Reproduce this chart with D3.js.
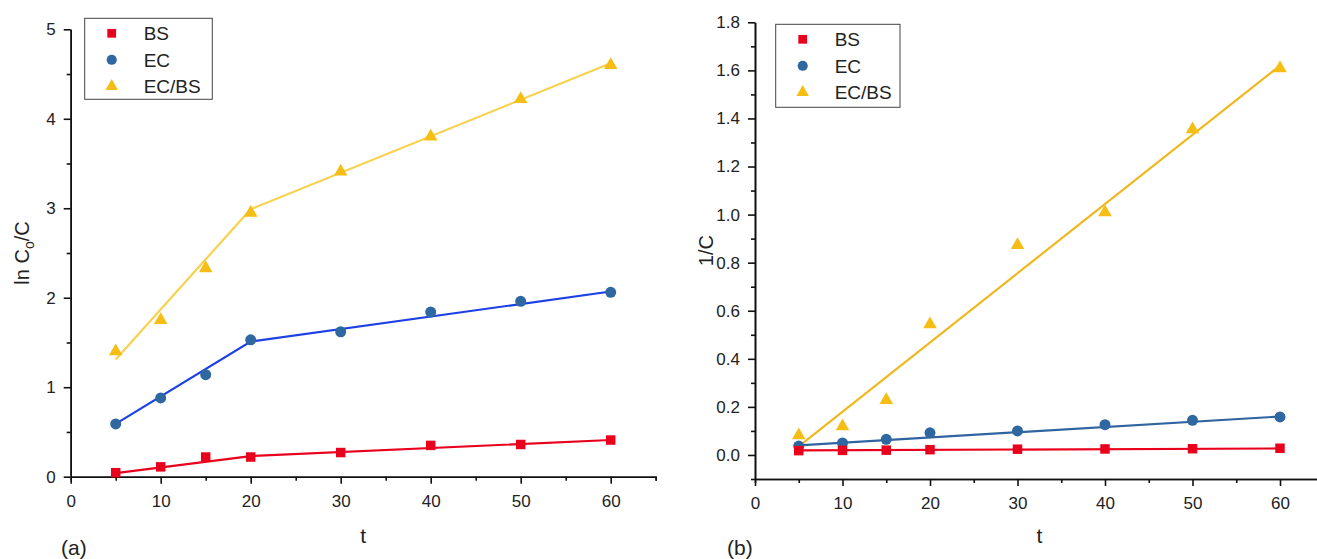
<!DOCTYPE html>
<html>
<head>
<meta charset="utf-8">
<script src="https://cdn.jsdelivr.net/npm/d3@7"></script>
<style>
  body { margin: 0; background: #fff; }
  svg { display: block; font-family: "Liberation Sans", Arial, sans-serif; }
  .axis path, .axis line { stroke: #111; stroke-width: 1.6; }
  .axis text { fill: #222; font-size: 17px; }
</style>
</head>
<body>
<div id="chart"></div>
<script>
// data
const times = [5, 10, 15, 20, 30, 40, 50, 60];
const seriesNames = ['BS', 'EC', 'EC/BS'];

// panel (a): ln C0/C
const lnBS   = [0.045, 0.11, 0.22, 0.22, 0.27, 0.35, 0.36, 0.41];
const lnEC   = [0.59, 0.88, 1.14, 1.53, 1.62, 1.84, 1.96, 2.06];
const lnECBS = [1.40, 1.75, 2.33, 2.95, 3.41, 3.80, 4.22, 4.60];
// piecewise fits (t = 5, 20, 60)
const fitTimesA = [5, 20, 60];
const lnFitBS   = [0.04, 0.23, 0.41];
const lnFitEC   = [0.59, 1.51, 2.07];
const lnFitECBS = [1.31, 2.99, 4.62];

// panel (b): 1/C
const invBS   = [0.018, 0.019, 0.020, 0.022, 0.024, 0.025, 0.026, 0.028];
const invEC   = [0.037, 0.050, 0.065, 0.092, 0.100, 0.126, 0.144, 0.158];
const invECBS = [0.082, 0.119, 0.228, 0.543, 0.873, 1.009, 1.355, 1.609];
// linear fits (t = 5, 60)
const fitTimesB = [5, 60];
const invFitBS   = [0.019, 0.027];
const invFitEC   = [0.040, 0.160];
const invFitECBS = [0.036, 1.620];

const xTicks = [0, 10, 20, 30, 40, 50, 60];
const yTicksA = [0, 1, 2, 3, 4, 5];
const yTicksB = [0, 0.2, 0.4, 0.6, 0.8, 1.0, 1.2, 1.4, 1.6, 1.8];

const markerColor = {'BS': '#e8001c', 'EC': '#2f67a0', 'EC/BS': '#f6bd14'};
const markerShape = {'BS': d3.symbolSquare, 'EC': d3.symbolCircle, 'EC/BS': d3.symbolTriangle};
const markerSize = {'BS': 90, 'EC': 95, 'EC/BS': 80};

const svg = d3.select('#chart').append('svg')
    .attr('width', 1317)
    .attr('height', 559);

function panel(opts) {
    const g = svg.append('g');

    const x = d3.scaleLinear().domain([0, 65]).range([opts.left, opts.left + 65 * opts.xUnit]);
    const y = d3.scaleLinear().domain(opts.yDomain).range([opts.bottom, opts.top]);

    // x axis, major + minor
    g.append('g')
        .attr('class', 'axis')
        .attr('transform', 'translate(0,' + opts.bottom + ')')
        .call(d3.axisBottom(x).tickValues(d3.range(5, 66, 10)).tickSize(4).tickFormat(''));
    g.append('g')
        .attr('class', 'axis')
        .attr('transform', 'translate(0,' + opts.bottom + ')')
        .call(d3.axisBottom(x).tickValues(xTicks).tickSize(7).tickSizeOuter(0).tickPadding(6))
        .selectAll('text').attr('dy', '1em');

    // y axis
    g.append('g')
        .attr('class', 'axis')
        .attr('transform', 'translate(' + opts.left + ',0)')
        .call(d3.axisLeft(y).tickValues(opts.yMinor).tickSize(4).tickSizeOuter(0).tickFormat(''));
    g.append('g')
        .attr('class', 'axis')
        .attr('transform', 'translate(' + opts.left + ',0)')
        .call(d3.axisLeft(y).tickValues(opts.yTicks).tickSize(7).tickSizeOuter(0)
            .tickPadding(8).tickFormat(opts.yFormat));

    // fit lines
    const line = d3.line().x(d => x(d[0])).y(d => y(d[1]));
    opts.fits.forEach(f => {
        g.append('path')
            .datum(opts.fitTimes.map((t, i) => [t, f.values[i]]))
            .attr('fill', 'none')
            .attr('stroke', f.color)
            .attr('stroke-width', 2.2)
            .attr('d', line);
    });

    // markers
    opts.series.forEach(s => {
        g.selectAll(null)
            .data(times.map((t, i) => [t, s.values[i]]))
            .enter().append('path')
            .attr('transform', d => 'translate(' + x(d[0]) + ',' + y(d[1]) + ')')
            .attr('d', d3.symbol().type(markerShape[s.name]).size(markerSize[s.name]))
            .attr('fill', markerColor[s.name]);
    });

    // axis titles
    const yt = g.append('text')
        .attr('transform', 'translate(' + opts.yTitleX + ',' + ((opts.top + opts.bottom) / 2) + ') rotate(-90)')
        .attr('text-anchor', 'middle')
        .attr('font-size', 20)
        .attr('fill', '#222');
    opts.yTitle(yt);

    g.append('text')
        .attr('x', x(32.5))
        .attr('y', 543)
        .attr('text-anchor', 'middle')
        .attr('font-size', 21)
        .attr('fill', '#222')
        .text('t');

    g.append('text')
        .attr('x', opts.tagX)
        .attr('y', 555)
        .attr('font-size', 21)
        .attr('fill', '#222')
        .text(opts.tag);

    // legend
    const lg = g.append('g').attr('transform', 'translate(' + opts.legend[0] + ',' + opts.legend[1] + ')');
    lg.append('rect')
        .attr('width', opts.legend[2])
        .attr('height', opts.legend[3])
        .attr('fill', '#fff')
        .attr('stroke', '#444')
        .attr('stroke-width', 1);
    seriesNames.forEach((n, i) => {
        const cy = 15 + i * 26.5;
        lg.append('path')
            .attr('transform', 'translate(27,' + cy + ')')
            .attr('d', d3.symbol().type(markerShape[n]).size(markerSize[n] * 0.85))
            .attr('fill', markerColor[n]);
        lg.append('text')
            .attr('x', 59)
            .attr('y', cy)
            .attr('dy', '0.36em')
            .attr('font-size', 19)
            .attr('fill', '#222')
            .text(n);
    });
}

panel({
    left: 70.7, xUnit: 9.0, top: 29.3, bottom: 476.7,
    yDomain: [0, 5], yTicks: yTicksA, yMinor: d3.range(0.5, 5, 1),
    yFormat: d3.format('d'),
    fitTimes: fitTimesA,
    fits: [
        {values: lnFitBS, color: '#e8001c'},
        {values: lnFitEC, color: '#1c40e4'},
        {values: lnFitECBS, color: '#f8d24e'}
    ],
    series: [
        {name: 'EC/BS', values: lnECBS},
        {name: 'EC', values: lnEC},
        {name: 'BS', values: lnBS}
    ],
    yTitleX: 29,
    yTitle: t => {
        t.append('tspan').text('ln C');
        t.append('tspan').attr('font-size', 14).attr('dy', 5).text('o');
        t.append('tspan').attr('dy', -5).text('/C');
    },
    tag: '(a)', tagX: 61,
    legend: [84.7, 18.3, 127.6, 81]
});

panel({
    left: 755, xUnit: 8.75, top: 22.3, bottom: 479,
    yDomain: [-0.1, 1.8], yTicks: yTicksB, yMinor: d3.range(-0.1, 1.8, 0.2),
    yFormat: d3.format('.1f'),
    fitTimes: fitTimesB,
    fits: [
        {values: invFitECBS, color: '#f0b81e'},
        {values: invFitEC, color: '#2f64a0'},
        {values: invFitBS, color: '#e8001c'}
    ],
    series: [
        {name: 'EC/BS', values: invECBS},
        {name: 'EC', values: invEC},
        {name: 'BS', values: invBS}
    ],
    yTitleX: 713,
    yTitle: t => t.text('1/C'),
    tag: '(b)', tagX: 727,
    legend: [775.7, 24.3, 124.3, 83]
});
</script>
</body>
</html>
